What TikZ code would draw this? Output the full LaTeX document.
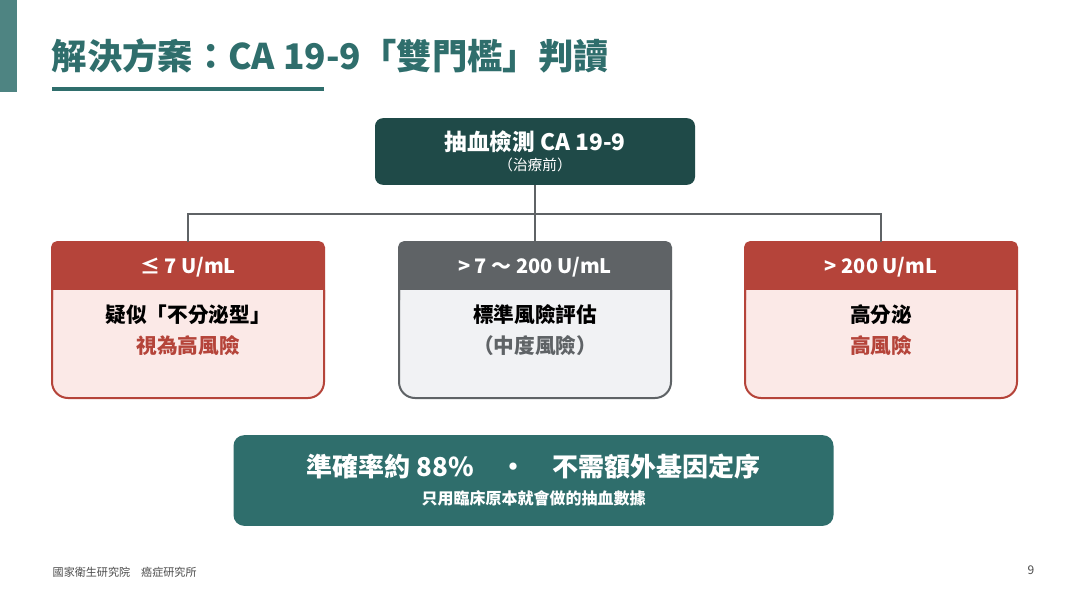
\documentclass[tikz,border=0pt]{standalone}
\usepackage{fontspec}
\setmainfont{Noto Sans CJK TC}
\usetikzlibrary{positioning}
\definecolor{teal}{HTML}{2F6E6C}
\definecolor{darkteal}{HTML}{1F4A48}
\definecolor{riskred}{HTML}{B5443A}
\definecolor{riskbg}{HTML}{FBE9E7}
\definecolor{midgray}{HTML}{5F6366}
\definecolor{midbg}{HTML}{F1F2F4}
\tikzset{
  card/.style={draw=#1, line width=1.5pt, rounded corners=10pt},
  head/.style={font=\bfseries\fontsize{15}{18}\selectfont, text=white},
  line/.style={font=\bfseries\fontsize{15.5}{18}\selectfont},
}
\begin{document}
\begin{tikzpicture}[x=0.75pt,y=-0.75pt]
\useasboundingbox (0,0) rectangle (1067,600);
\fill[white] (0,0) rectangle (1067,600);
\fill[teal!85] (0,0) rectangle (17,92);

\node[anchor=base west, text=teal, font=\bfseries\fontsize{26.5}{30}\selectfont] (title) at (47,69) {解決方案：CA 19-9「雙門檻」判讀};
\draw[teal, line width=3pt] (52,89) -- (324,89);

% top box
\node[fill=darkteal, rounded corners=6pt, minimum width=240pt, minimum height=50pt] (test) at (535,151.5) {};
\node[text=white, font=\bfseries\fontsize{17}{20}\selectfont] (testa) at (535,142) {抽血檢測 CA 19-9};
\node[text=white, font=\fontsize{11}{13}\selectfont] (testb) at (535,165) {（治療前）};

% three cards
\foreach \name/\x/\col/\bg in {low/188/riskred/riskbg, mid/535/midgray/midbg, high/881/riskred/riskbg}{
  \fill[\bg, rounded corners=10pt] (\x-136,242) rectangle (\x+136,398);
  \fill[\col, rounded corners=4pt] (\x-136,242) rectangle (\x+136,270);
  \fill[\col] (\x-136,260) rectangle (\x+136,290);
  \draw[\col, line width=1.5pt, rounded corners=4pt] (\x-136,300) -- (\x-136,242) -- (\x+136,242) -- (\x+136,300);
  \draw[\col, line width=1.5pt, rounded corners=12pt] (\x-136,290) -- (\x-136,398) -- (\x+136,398) -- (\x+136,290);
  \coordinate (\name) at (\x,242);
}
\node[head] (lowh) at (188,267) {≤ 7 U/mL};
\node[head] (midh) at (535,267) {> 7 ～ 200 U/mL};
\node[head] (highh) at (881,267) {> 200 U/mL};
\node[line] (lowa) at (188,315) {疑似「不分泌型」};
\node[line, text=riskred] (lowb) at (188,346) {視為高風險};
\node[line] (mida) at (535,315) {標準風險評估};
\node[line, text=midgray] (midb) at (535,346) {（中度風險）};
\node[line] (higha) at (881,315) {高分泌};
\node[line, text=riskred] (highb) at (881,346) {高風險};

% connectors
\coordinate (bus) at (535,214);
\draw[midgray, line width=1pt] (test.south) -- (bus);
\draw[midgray, line width=1pt] (low) -- (low |- bus) -- (high |- bus) -- (high);
\draw[midgray, line width=1pt] (bus) -- (mid);

% bottom summary
\node[fill=teal, rounded corners=8pt, minimum width=450pt, minimum height=68pt] (sum) at (533.5,480.5) {};
\node[text=white, font=\bfseries\fontsize{19.5}{22}\selectfont] (suma) at (533.5,467) {準確率約 88\%\quad•\quad 不需額外基因定序};
\node[text=white, font=\bfseries\fontsize{12}{14}\selectfont] (sumb) at (533.5,498) {只用臨床原本就會做的抽血數據};

\node[anchor=west, text=black!70, font=\fontsize{8.3}{10}\selectfont] (foot) at (48,572) {國家衛生研究院　癌症研究所};
\node[text=black!70, font=\fontsize{9}{10}\selectfont] (page) at (1031,570) {9};
\end{tikzpicture}
\end{document}
